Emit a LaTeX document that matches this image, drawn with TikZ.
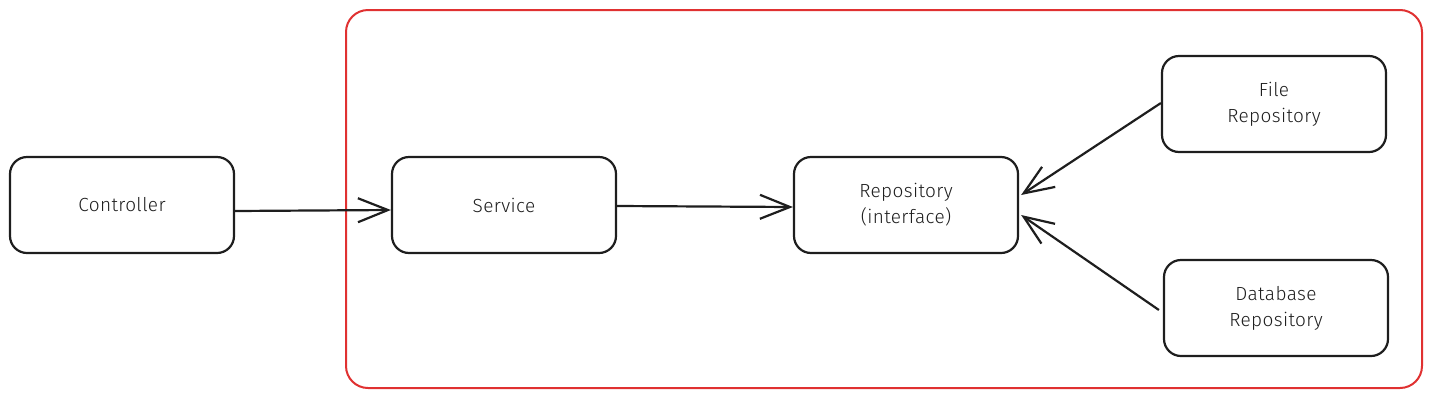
\documentclass[tikz,border=0pt]{standalone}
\usepackage{fontspec}
\setmainfont{Fira Sans Light}[BoldFont={Fira Sans},LetterSpace=2]
\usetikzlibrary{arrows.meta,calc}
\definecolor{exred}{HTML}{E03131}
\definecolor{exink}{HTML}{1E1E1E}
\tikzset{
  box/.style={draw=exink, line width=2.2pt, rounded corners=17pt, minimum width=224pt, minimum height=96pt, inner sep=0pt, align=center, font=\fontsize{19}{26}\selectfont, text=exink},
  conn/.style={draw=exink, line width=2.2pt, -{Straight Barb[length=30pt,width=24pt,line width=2.2pt]}},
}
\begin{document}
\begin{tikzpicture}[x=1pt,y=-1pt]
\useasboundingbox (0,0) rectangle (1432,400);
\draw[exred, line width=2pt, rounded corners=22pt] (346,10) rectangle (1422,388);
\node[box] (ctrl) at (122,205) {Controller};
\node[box] (svc) at (504,205) {Service};
\node[box] (repo) at (906,205) {Repository\\(interface)};
\node[box] (file) at (1274,104) {File\\Repository};
\node[box] (db) at (1276,308) {Database\\Repository};
\coordinate (c1) at (ctrl.east |- 0,211);
\coordinate (s1) at (svc.west |- 0,210);
\coordinate (s2) at (svc.east |- 0,206);
\coordinate (r1) at (repo.west |- 0,207);
\coordinate (r2) at ($(repo.east)+(2,-10)$);
\coordinate (r3) at ($(repo.east)+(2,10)$);
\coordinate (f1) at (file.west |- 0,103);
\coordinate (d1) at ($(db.west)+(-4,2)$);
\draw[conn] (c1) -- (s1);
\draw[conn] (s2) -- (r1);
\draw[conn] (f1) -- (r2);
\draw[conn] (d1) -- (r3);
\end{tikzpicture}
\end{document}
